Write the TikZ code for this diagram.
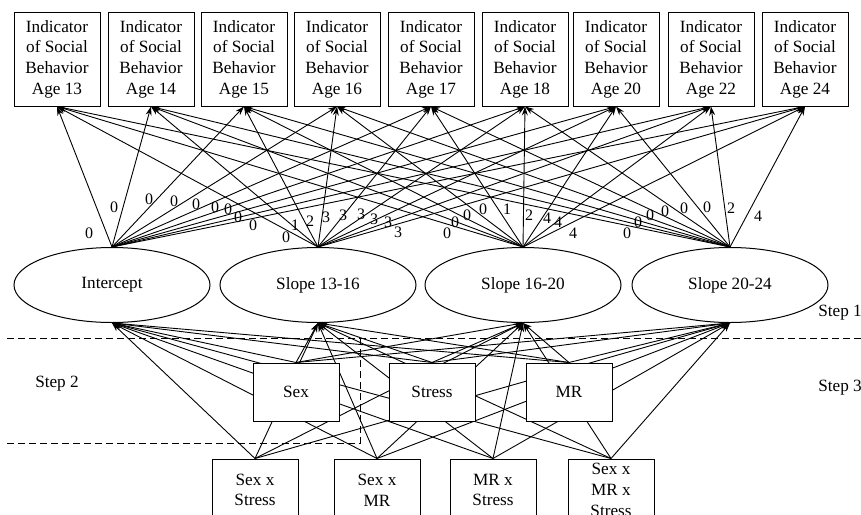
\documentclass[tikz,border=0pt]{standalone}
\usepackage{fontspec}
\setmainfont{Liberation Serif}
\usetikzlibrary{arrows.meta,shapes.geometric}
\pgfdeclarelayer{bg}
\pgfsetlayers{bg,main}
\begin{document}
\begin{tikzpicture}[x=1pt,y=-1pt,
  every node/.style={font=\fontsize{17.2}{20.7}\selectfont},
  topbox/.style={draw,line width=1pt,fill=white,minimum width=86pt,minimum height=94pt,inner sep=0pt,align=center},
  predbox/.style={draw,line width=1pt,fill=white,minimum width=86pt,minimum height=58pt,inner sep=0pt,align=center},
  intbox/.style={draw,line width=1pt,fill=white,minimum width=86pt,minimum height=62pt,inner sep=0pt,align=center},
  latent/.style={draw,ellipse,line width=1pt,fill=white,minimum width=196pt,minimum height=75pt,inner sep=0pt},
  arr/.style={line width=0.9pt,-{Stealth[length=9pt,width=6pt]}},
  lbl/.style={font=\fontsize{16}{18}\selectfont,inner sep=0pt},
  steplbl/.style={inner sep=0pt},
  sep/.style={line width=1pt,dash pattern=on 7pt off 4pt}
]
\useasboundingbox (0,0) rectangle (861,514);
\clip (0,0) rectangle (861,514);

% indicators
\node[topbox] (a13) at (57,59)  {Indicator\\of Social\\Behavior\\Age 13};
\node[topbox] (a14) at (151,59) {Indicator\\of Social\\Behavior\\Age 14};
\node[topbox] (a15) at (244,59) {Indicator\\of Social\\Behavior\\Age 15};
\node[topbox] (a16) at (337,59) {Indicator\\of Social\\Behavior\\Age 16};
\node[topbox] (a17) at (431,59) {Indicator\\of Social\\Behavior\\Age 17};
\node[topbox] (a18) at (525,59) {Indicator\\of Social\\Behavior\\Age 18};
\node[topbox] (a20) at (616,59) {Indicator\\of Social\\Behavior\\Age 20};
\node[topbox] (a22) at (711,59) {Indicator\\of Social\\Behavior\\Age 22};
\node[topbox] (a24) at (805,59) {Indicator\\of Social\\Behavior\\Age 24};

% latent factors
\node[latent] (int) at (112,285) {Intercept};
\node[latent] (s1)  at (318,285) {Slope 13-16};
\node[latent] (s2)  at (523,285) {Slope 16-20};
\node[latent] (s3)  at (730,285) {Slope 20-24};

% predictors
\node[predbox] (sex)    at (296,392) {Sex};
\node[predbox] (stress) at (432,392) {Stress};
\node[predbox] (mr)     at (569,392) {MR};

\node[intbox] (sxs)   at (255,490) {Sex x\\Stress};
\node[intbox] (sxm)   at (377,490) {Sex x\\MR};
\node[intbox] (mxs)   at (493,490) {MR x\\Stress};
\node[intbox] (sxmxs) at (611,490) {Sex x\\MR x\\Stress};

% step labels
\node[steplbl] (st1) at (840,313) {Step 1};
\node[steplbl] (st2) at (57,384)  {Step 2};
\node[steplbl] (st3) at (840,388) {Step 3};

\begin{pgfonlayer}{bg}
  \foreach \l in {int,s1,s2,s3}{
    \foreach \b in {a13,a14,a15,a16,a17,a18,a20,a22,a24}{
      \draw[arr] (\l.north) -- (\b.south);
    }
  }
  \foreach \p in {sex,stress,mr,sxs,sxm,mxs,sxmxs}{
    \foreach \l in {int,s1,s2,s3}{
      \draw[arr] (\p.north) -- (\l.south);
    }
  }
  \draw[sep] (7,338) -- (861,338);
  \draw[sep] (7,443) -- (360,443) -- (360,338);
\end{pgfonlayer}

% loading labels: intercept
\foreach \x/\y [count=\i] in {89/233,114/207,149/199,174/201,196/204,215/207,228/209,238/217,253/225}{
  \node[lbl] (li\i) at (\x,\y) {0};
}
% slope 13-16
\foreach \x/\y/\t [count=\i] in {286/237/0,295/225/1,310/221/2,326/217/3,343/215/3,361/214/3,374/219/3,388/222/3,398/232/3}{
  \node[lbl] (la\i) at (\x,\y) {\t};
}
% slope 16-20
\foreach \x/\y/\t [count=\i] in {447/233/0,455/222/0,467/215/0,483/209/0,507/209/1,529/215/2,547/218/4,558/222/4,573/233/4}{
  \node[lbl] (lb\i) at (\x,\y) {\t};
}
% slope 20-24
\foreach \x/\y/\t [count=\i] in {627/233/0,638/222/0,650/215/0,665/211/0,684/208/0,707/207/0,731/208/2,758/216/4}{
  \node[lbl] (lc\i) at (\x,\y) {\t};
}
\end{tikzpicture}
\end{document}
